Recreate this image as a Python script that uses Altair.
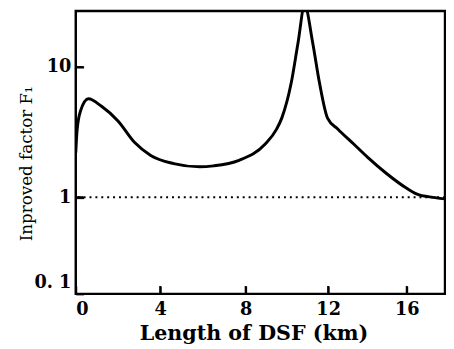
import altair as alt
import pandas as pd

# Curve (length of DSF in km, improved factor F1)
dsf_km = [0.0, 0.06, 0.22, 0.6, 1.22, 2.0, 2.78, 3.55, 4.63, 5.85, 6.5,
          7.69, 8.95, 9.5, 9.75, 10.22, 10.54, 10.86, 11.25, 11.57, 11.97, 12.5,
          13.3, 14.0, 14.97, 16.0, 16.58, 17.0, 17.8]
factor = [2.2, 3.23, 4.57, 5.7, 4.99, 3.85, 2.64, 2.09, 1.81, 1.71, 1.74,
          1.92, 2.56, 3.33, 4.05, 7.7, 15.4, 30.0, 15.4, 7.7, 4.05, 3.33,
          2.56, 2.03, 1.52, 1.17, 1.04, 1.01, 0.96]

x_ticks = [0, 4, 8, 12, 16]
y_ticks = [0.1, 1, 10]
x_inner_ticks = [4, 8, 12, 16]
y_inner_ticks = [1, 10]
ref_level = [1]

x_title = "Length of DSF (km)"
y_title = "Inproved factor F₁"

curve = pd.DataFrame({"x": dsf_km, "y": factor})
ref = pd.DataFrame({"y": ref_level})
xt = pd.DataFrame({"x": x_inner_ticks})
yt = pd.DataFrame({"y": y_inner_ticks})

xs = alt.Scale(domain=[0, 4, 8, 12, 16, 17.8], range=[0, 86, 173, 257, 337, 376], nice=False, zero=False)
ys = alt.Scale(type="log", domain=[0.1, 1, 10, 27], range=[288, 189.5, 57, 0], nice=False)

# axes shifted inwards by 8px so their ticks point into the plot; the frame is the view stroke
x_axis = alt.Axis(values=x_ticks, title=x_title, grid=False, domain=False, offset=-8, zindex=2,
                  tickSize=8, tickWidth=2, tickColor="black", labelPadding=7,
                  labelFont="DejaVu Serif", labelFontWeight="bold", labelFontSize=18, labelColor="black",
                  titleFont="DejaVu Serif", titleFontWeight="bold", titleFontSize=21, titleColor="black",
                  titleX=181, titleY=54, titleAlign="center", titleBaseline="alphabetic")
y_axis = alt.Axis(values=y_ticks, title=y_title, grid=False, domain=False, offset=-8, zindex=2,
                  tickSize=8, tickWidth=2, tickColor="black", labelPadding=5,
                  format="~g",
                  labelExpr="datum.value < 0.5 ? '0. 1' : datum.label",
                  labelOffset=alt.ExprRef("datum.value < 0.5 ? -11 : 0"),
                  labelFont="DejaVu Serif", labelFontWeight="bold", labelFontSize=18, labelColor="black",
                  titleFont="DejaVu Serif", titleFontWeight="normal", titleFontSize=17, titleColor="black",
                  titleX=-58, titleY=155, titleAlign="center", titleBaseline="middle", titleAngle=270)

X = alt.X("x:Q", scale=xs, axis=x_axis)
Y = alt.Y("y:Q", scale=ys, axis=y_axis)

ref_line = alt.Chart(ref).mark_rule(color="black", strokeWidth=2, strokeDash=[2, 4]).encode(y=Y)
line = alt.Chart(curve).mark_line(color="black", strokeWidth=3, interpolate="monotone", clip=True).encode(x=X, y=Y)
xtick_marks = alt.Chart(xt).mark_point(shape="M0,-1L0,1", size=64, filled=False, stroke="black",
                                       strokeWidth=2, opacity=1).encode(x=X, y=alt.value(284))
ytick_marks = alt.Chart(yt).mark_point(shape="M-1,0L1,0", size=64, filled=False, stroke="black",
                                       strokeWidth=2, opacity=1).encode(y=Y, x=alt.value(4))

chart = alt.layer(ref_line, line, xtick_marks, ytick_marks).properties(
    width=376, height=288,
    padding={"left": 69, "top": 0, "right": 1, "bottom": 53},
    autosize=alt.AutoSizeParams(type="none"),
    background="white",
).configure_view(stroke="black", strokeWidth=2.5)

chart.save("out.html", embed_options={"renderer": "svg", "actions": False})
